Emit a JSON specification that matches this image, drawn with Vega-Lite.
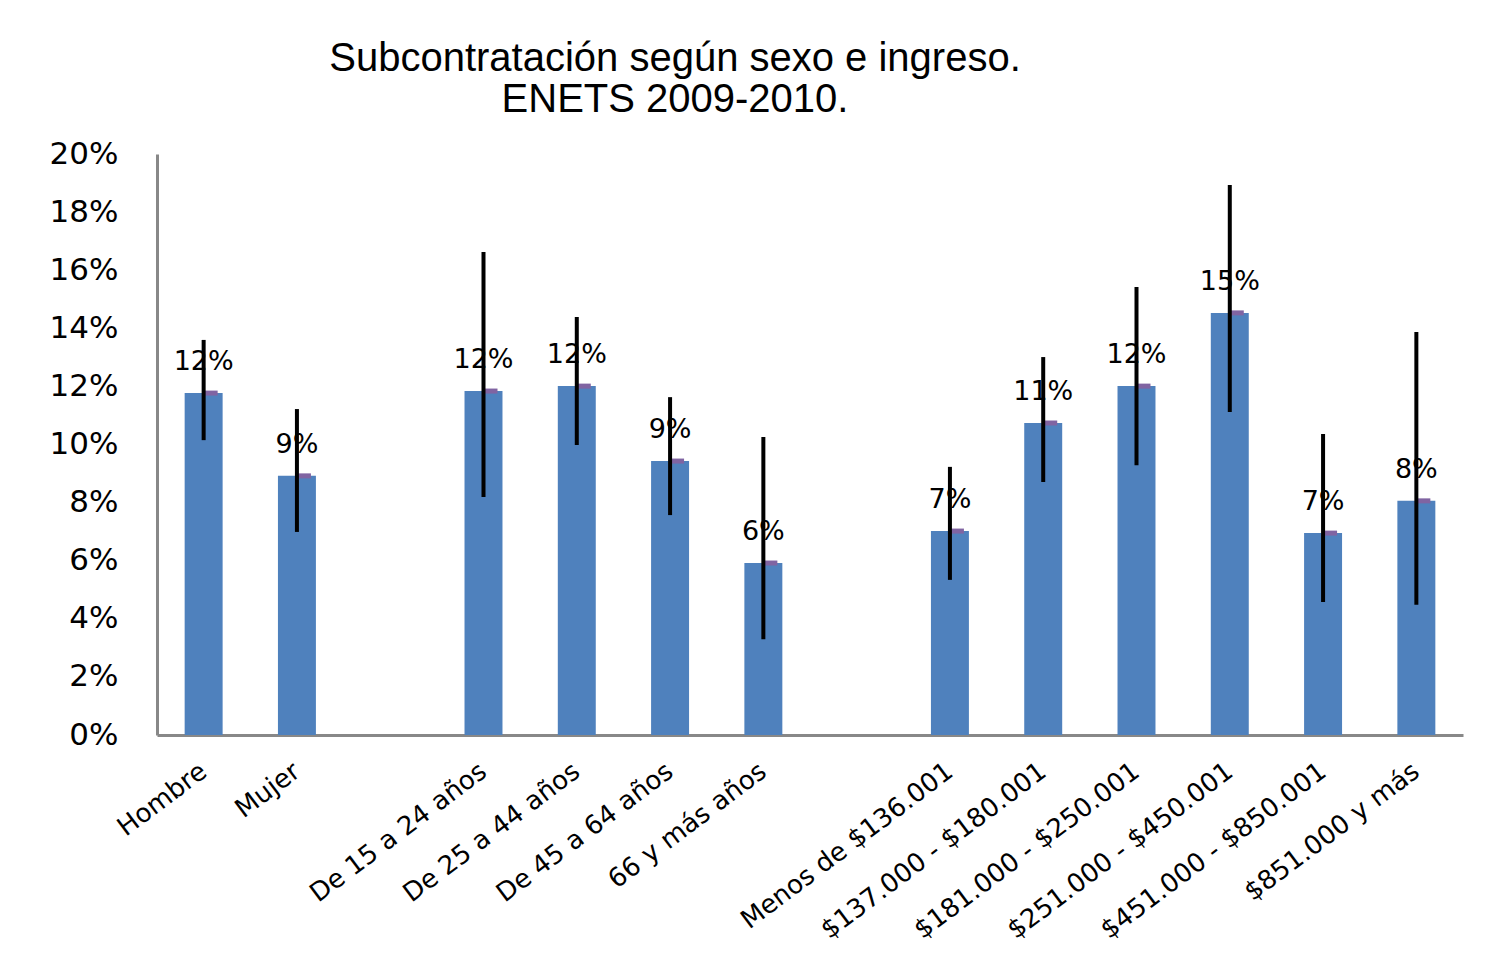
{
  "$schema": "https://vega.github.io/schema/vega-lite/v6.json",
  "autosize": "none",
  "width": 1306,
  "height": 581,
  "padding": {"left": 157, "top": 154, "right": 49, "bottom": 245},
  "background": "white",
  "title": {
    "text": ["Subcontratación según sexo e ingreso.", "ENETS 2009-2010."],
    "font": "Liberation Sans",
    "fontSize": 40,
    "fontWeight": "normal",
    "color": "black",
    "lineHeight": 41,
    "anchor": "middle",
    "dx": -135,
    "offset": 18
  },
  "data": {
    "values": [
      {"cat": "Hombre", "val": 0.1177, "lo": 0.1015, "hi": 0.136, "label": "12%"},
      {"cat": "Mujer", "val": 0.0892, "lo": 0.0699, "hi": 0.1122, "label": "9%"},
      {"cat": "De 15 a 24 años", "val": 0.1184, "lo": 0.0819, "hi": 0.1663, "label": "12%"},
      {"cat": "De 25 a 44 años", "val": 0.1201, "lo": 0.0998, "hi": 0.1439, "label": "12%"},
      {"cat": "De 45 a 64 años", "val": 0.0943, "lo": 0.0757, "hi": 0.1163, "label": "9%"},
      {"cat": "66 y más años", "val": 0.0592, "lo": 0.033, "hi": 0.1026, "label": "6%"},
      {"cat": "Menos de $136.001", "val": 0.0702, "lo": 0.0534, "hi": 0.0923, "label": "7%"},
      {"cat": "$137.000 - $180.001", "val": 0.1074, "lo": 0.0871, "hi": 0.1301, "label": "11%"},
      {"cat": "$181.000 - $250.001", "val": 0.1201, "lo": 0.0929, "hi": 0.1542, "label": "12%"},
      {"cat": "$251.000 - $450.001", "val": 0.1453, "lo": 0.1112, "hi": 0.1893, "label": "15%"},
      {"cat": "$451.000 - $850.001", "val": 0.0695, "lo": 0.0458, "hi": 0.1036, "label": "7%"},
      {"cat": "$851.000 y más", "val": 0.0806, "lo": 0.0448, "hi": 0.1387, "label": "8%"}
    ]
  },
  "encoding": {
    "x": {
      "field": "cat",
      "type": "nominal",
      "sort": null,
      "scale": {
        "domain": ["Hombre", "Mujer", " ", "De 15 a 24 años", "De 25 a 44 años", "De 45 a 64 años", "66 y más años", "  ", "Menos de $136.001", "$137.000 - $180.001", "$181.000 - $250.001", "$251.000 - $450.001", "$451.000 - $850.001", "$851.000 y más"],
        "paddingInner": 0.593,
        "paddingOuter": 0.2965
      },
      "axis": {
        "title": null,
        "domainColor": "#888888",
        "domainWidth": 3,
        "ticks": false,
        "labelAngle": -37,
        "labelAlign": "right",
        "labelBaseline": "middle",
        "labelPadding": 33,
        "labelFont": "DejaVu Sans",
        "labelFontSize": 26,
        "labelColor": "black",
        "labelLimit": 400
      }
    }
  },
  "layer": [
    {
      "mark": {"type": "bar", "color": "#4F81BD"},
      "encoding": {
        "y": {
          "field": "val",
          "type": "quantitative",
          "scale": {"domain": [0, 0.2], "nice": false},
          "axis": {
            "title": null,
            "format": "0%",
            "values": [0, 0.02, 0.04, 0.06, 0.08, 0.1, 0.12, 0.14, 0.16, 0.18, 0.2],
            "grid": false,
            "ticks": false,
            "domainColor": "#888888",
            "domainWidth": 3,
            "labelPadding": 39,
            "labelFont": "DejaVu Sans",
            "labelFontSize": 31,
            "labelColor": "black"
          }
        }
      }
    },
    {
      "mark": {"type": "tick", "color": "#8064A2", "size": 14, "thickness": 5, "xOffset": 7, "opacity": 1},
      "encoding": {"y": {"field": "val", "type": "quantitative"}}
    },
    {
      "mark": {"type": "rule", "color": "black", "strokeWidth": 4},
      "encoding": {
        "y": {"field": "lo", "type": "quantitative"},
        "y2": {"field": "hi"}
      }
    },
    {
      "mark": {"type": "text", "font": "DejaVu Sans", "fontSize": 27, "color": "black", "baseline": "alphabetic", "dy": -23},
      "encoding": {
        "y": {"field": "val", "type": "quantitative"},
        "text": {"field": "label"}
      }
    }
  ],
  "config": {"view": {"stroke": null}}
}
